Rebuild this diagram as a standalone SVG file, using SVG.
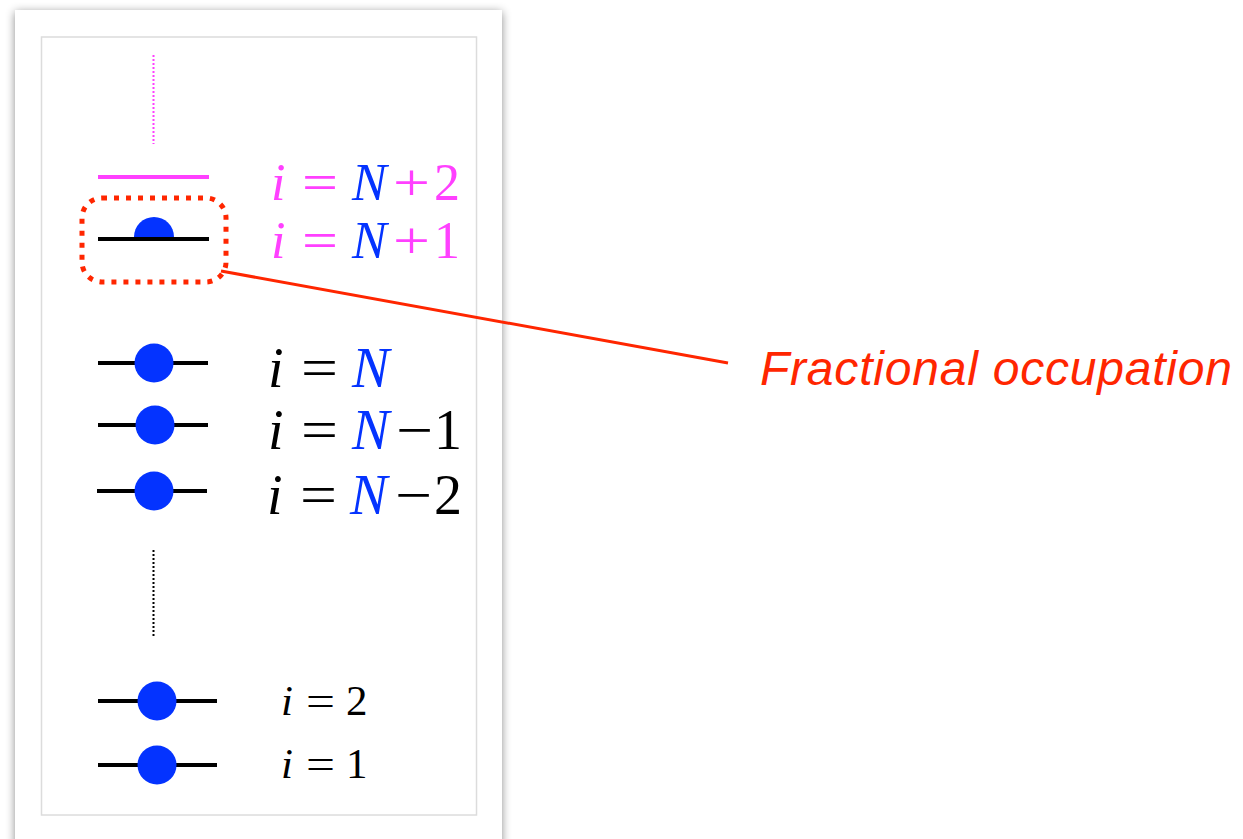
<svg xmlns="http://www.w3.org/2000/svg" width="1243" height="839" viewBox="0 0 1243 839">
<defs>
<filter id="sh" x="-10%" y="-5%" width="120%" height="110%">
<feDropShadow dx="0" dy="2" stdDeviation="5" flood-color="#000" flood-opacity="0.45"/>
</filter>
<style>
.lvl{stroke:#000;stroke-width:4;fill:none}
.e{fill:#0433ff}
.m{font-family:"Liberation Serif","Times New Roman",serif;font-size:56px}
.t{font-family:"Liberation Serif","Times New Roman",serif;font-size:52px}
.s{font-family:"Liberation Serif","Times New Roman",serif;font-size:43px}
.it{font-style:italic}
.mag{fill:#ff40ff}
.blu{fill:#0433ff}
.blk{fill:#000}
</style>
</defs>
<rect width="1243" height="839" fill="#fff"/>
<g id="card">
<rect x="15" y="10" width="487" height="860" fill="#fff" filter="url(#sh)"/>
<rect x="41.5" y="37" width="435" height="778" fill="#fff" stroke="#dcdcdc" stroke-width="1.5"/>
</g>
<g id="dots-top"><line x1="153.5" y1="55" x2="153.5" y2="144" stroke="#ff40ff" stroke-width="2" stroke-dasharray="2 2"/></g>
<g id="level-N2">
<line x1="98" y1="177" x2="209" y2="177" stroke="#ff40ff" stroke-width="4"/>
<text class="t" y="200"><tspan class="it mag" x="271">i</tspan><tspan class="mag" x="302" textLength="36" lengthAdjust="spacingAndGlyphs">=</tspan><tspan class="it blu" x="352">N</tspan><tspan class="mag" x="393" textLength="37" lengthAdjust="spacingAndGlyphs">+</tspan><tspan class="mag" x="434">2</tspan></text>
</g>
<g id="level-N1">
<line class="lvl" x1="98" y1="239" x2="209" y2="239"/>
<path class="e" d="M134,237 A20,20 0 0 1 174,237 Z"/>
<text class="t" y="258"><tspan class="it mag" x="271">i</tspan><tspan class="mag" x="302" textLength="36" lengthAdjust="spacingAndGlyphs">=</tspan><tspan class="it blu" x="352">N</tspan><tspan class="mag" x="393" textLength="37" lengthAdjust="spacingAndGlyphs">+</tspan><tspan class="mag" x="434">1</tspan></text>
</g>
<g id="highlight"><rect x="82" y="198" width="144" height="84" rx="20" fill="none" stroke="#ff2600" stroke-width="5" stroke-dasharray="5 7"/></g>
<g id="level-N">
<line class="lvl" x1="98" y1="363" x2="208" y2="363"/>
<circle class="e" cx="154" cy="363" r="19.5"/>
<text class="m" y="387"><tspan class="it blk" x="268">i</tspan><tspan class="blk" x="301" textLength="37" lengthAdjust="spacingAndGlyphs">=</tspan><tspan class="it blu" x="352">N</tspan></text>
</g>
<g id="level-Nm1">
<line class="lvl" x1="98" y1="425" x2="208" y2="425"/>
<circle class="e" cx="155" cy="425" r="19.5"/>
<text class="m" y="449"><tspan class="it blk" x="268">i</tspan><tspan class="blk" x="301" textLength="37" lengthAdjust="spacingAndGlyphs">=</tspan><tspan class="it blu" x="352">N</tspan><tspan class="blk" x="396" textLength="37" lengthAdjust="spacingAndGlyphs">−</tspan><tspan class="blk" x="434">1</tspan></text>
</g>
<g id="level-Nm2">
<line class="lvl" x1="97" y1="491" x2="207" y2="491"/>
<circle class="e" cx="154" cy="491" r="19.5"/>
<text class="m" y="514"><tspan class="it blk" x="267">i</tspan><tspan class="blk" x="300" textLength="37" lengthAdjust="spacingAndGlyphs">=</tspan><tspan class="it blu" x="350">N</tspan><tspan class="blk" x="395" textLength="37" lengthAdjust="spacingAndGlyphs">−</tspan><tspan class="blk" x="434">2</tspan></text>
</g>
<g id="dots-mid"><line x1="153.5" y1="550" x2="153.5" y2="638" stroke="#000" stroke-width="2" stroke-dasharray="2 2"/></g>
<g id="level-2">
<line class="lvl" x1="98" y1="701" x2="217" y2="701"/>
<circle class="e" cx="157" cy="701" r="19.5"/>
<text class="s" y="715"><tspan class="it blk" x="281">i</tspan><tspan class="blk" x="306" textLength="29" lengthAdjust="spacingAndGlyphs">=</tspan><tspan class="blk" x="346">2</tspan></text>
</g>
<g id="level-1">
<line class="lvl" x1="98" y1="765" x2="217" y2="765"/>
<circle class="e" cx="157" cy="765" r="19.5"/>
<text class="s" y="778"><tspan class="it blk" x="281">i</tspan><tspan class="blk" x="306" textLength="29" lengthAdjust="spacingAndGlyphs">=</tspan><tspan class="blk" x="346">1</tspan></text>
</g>
<g id="connectors"><line x1="221" y1="271" x2="728" y2="363" stroke="#ff2600" stroke-width="3"/></g>
<g id="callout"><text x="760" y="385" font-family="Liberation Sans, Arial, sans-serif" font-style="italic" font-size="48" fill="#ff2600" textLength="472">Fractional occupation</text></g>
</svg>
